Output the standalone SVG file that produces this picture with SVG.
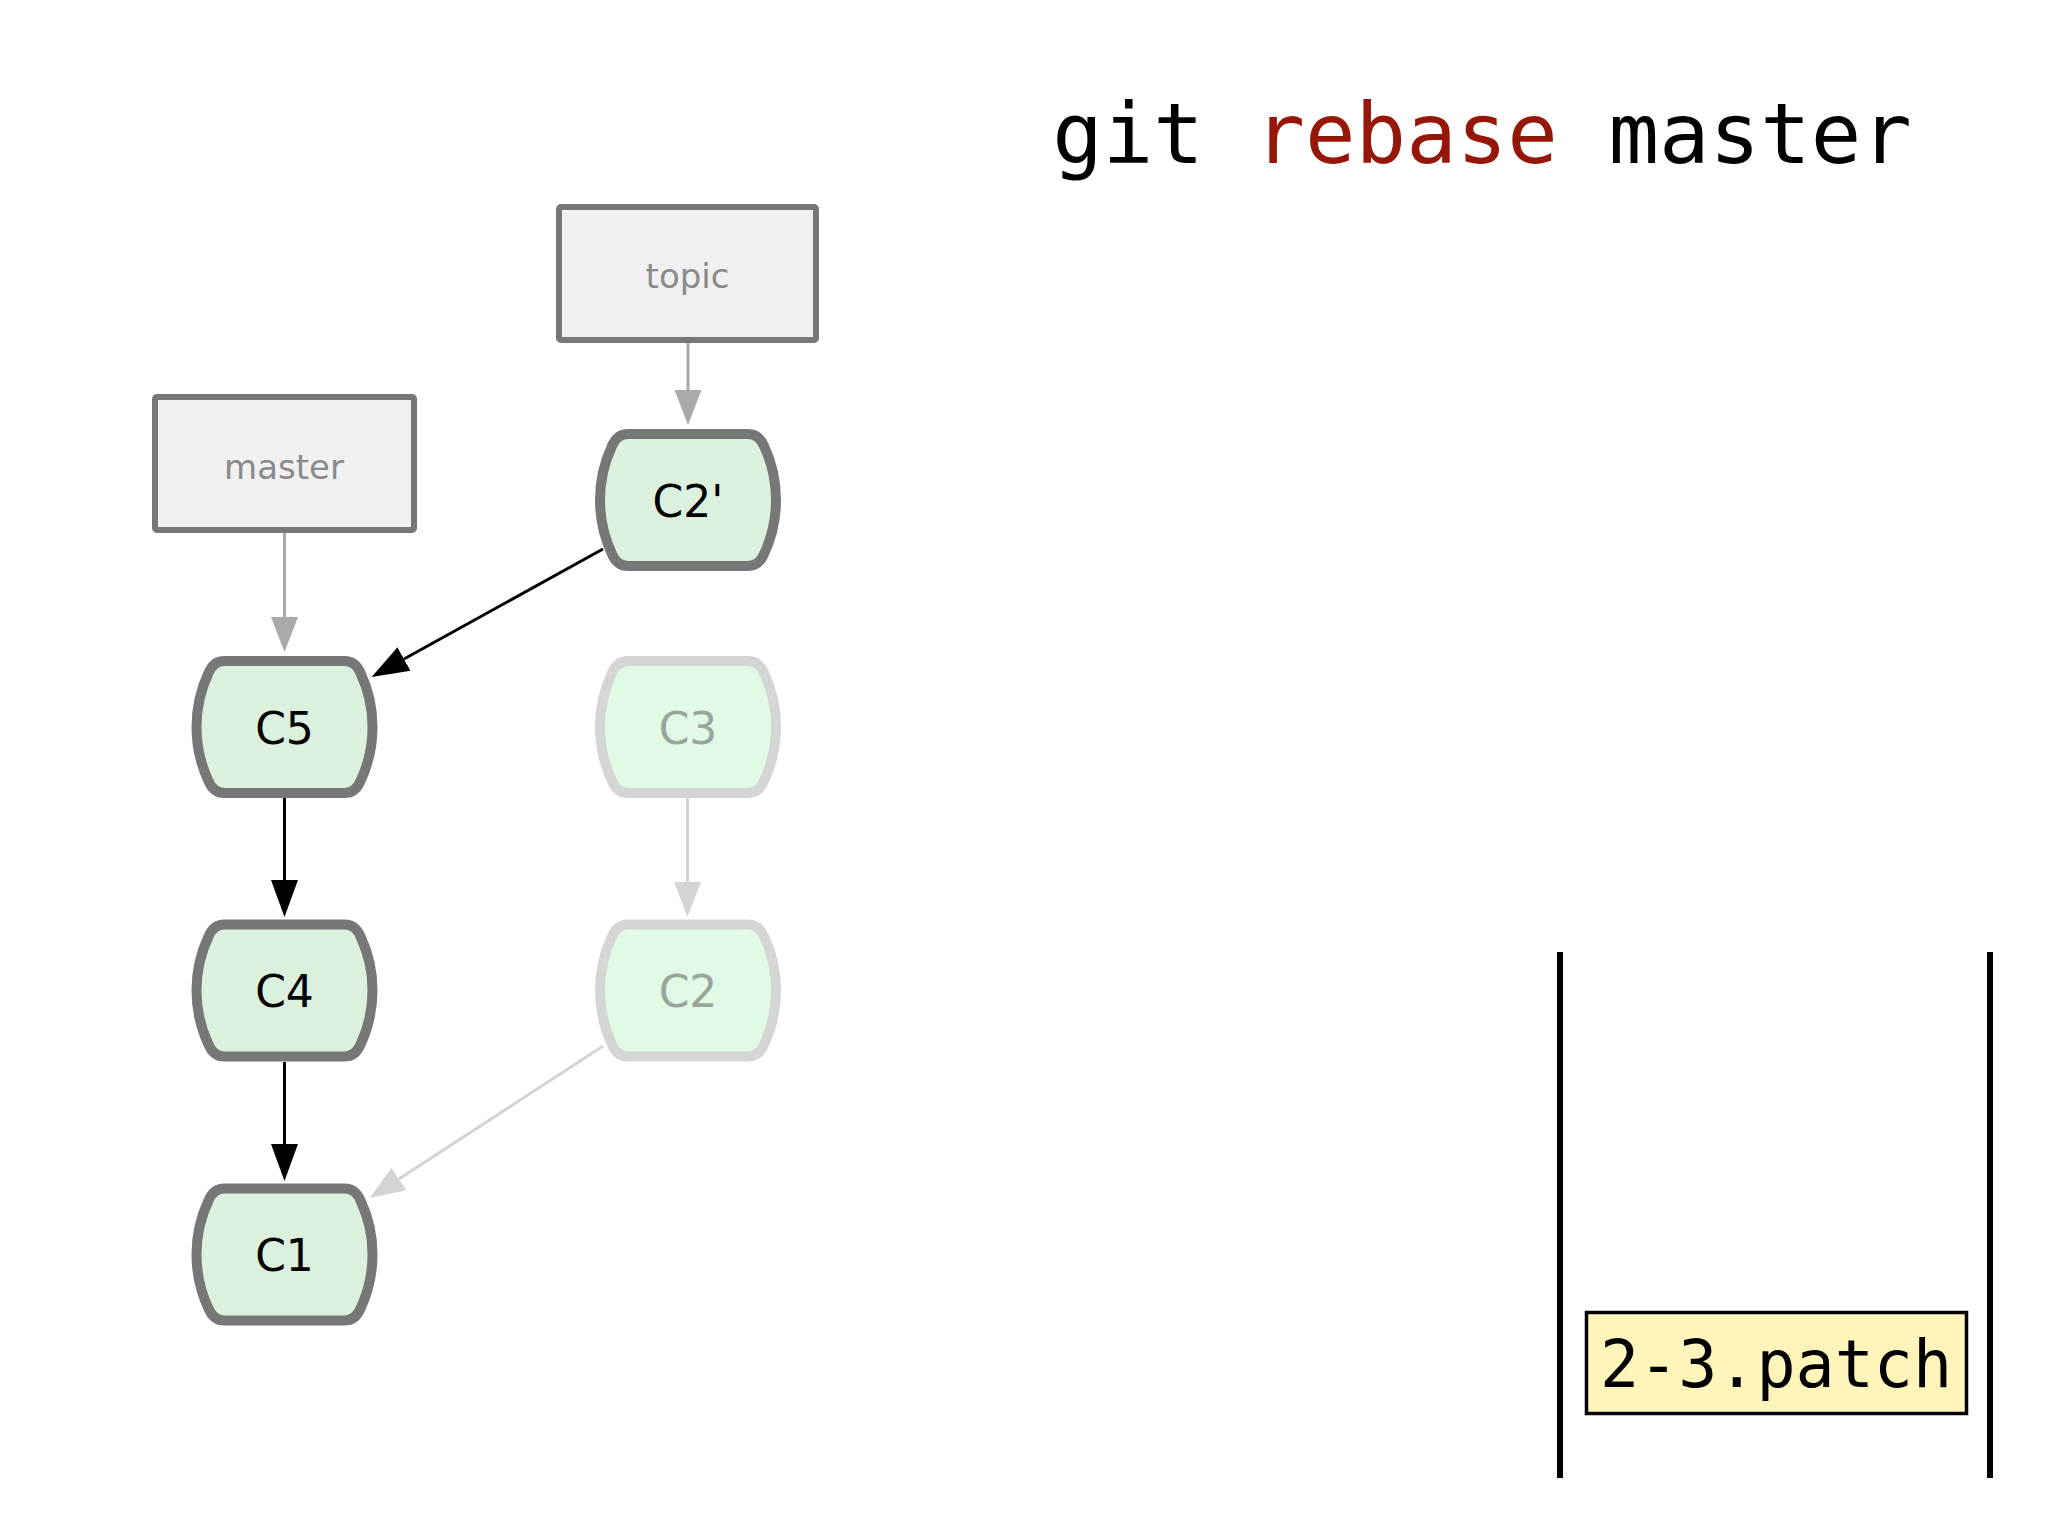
<svg xmlns="http://www.w3.org/2000/svg" width="2048" height="1536" viewBox="0 0 2048 1536">
  <style>
    .ref rect { fill: #f0f0f0; stroke: #777777; stroke-width: 6; }
    .ref text { font-family: "DejaVu Sans", "Liberation Sans", sans-serif; font-size: 34px; fill: #8a8a8a; text-anchor: middle; }
    .commit use { fill: #dbf1de; stroke: #777777; stroke-width: 10; }
    .commit text { font-family: "DejaVu Sans", "Liberation Sans", sans-serif; font-size: 44px; fill: #000000; text-anchor: middle; }
    .faded use { fill: #e0fae6; stroke: #d5d5d5; }
    .faded text { fill: #9aa59c; }
    .mono { font-family: "DejaVu Sans Mono", "Liberation Mono", monospace; }
    .edge { fill: none; stroke-width: 3; }
    .e-ref { stroke: #aaaaaa; }
    .e-main { stroke: #000000; }
    .e-old { stroke: #d4d4d4; }
  </style>
  <defs>
    <path id="commitShape" d="M -60,-66 H 60 Q 71,-66 76,-54 C 92,-20 92,20 76,54 Q 71,66 60,66 H -60 Q -71,66 -76,54 C -92,20 -92,-20 -76,-54 Q -71,-66 -60,-66 Z"/>
    <marker id="headRef" markerUnits="userSpaceOnUse" markerWidth="36" markerHeight="30" refX="0" refY="15" orient="auto" viewBox="0 0 36 30">
      <path d="M0,1.5 L35,15 L0,28.5 Z" fill="#aaaaaa"/>
    </marker>
    <marker id="headMain" markerUnits="userSpaceOnUse" markerWidth="38" markerHeight="30" refX="0" refY="15" orient="auto" viewBox="0 0 38 30">
      <path d="M0,1.5 L37,15 L0,28.5 Z" fill="#000000"/>
    </marker>
    <marker id="headOld" markerUnits="userSpaceOnUse" markerWidth="36" markerHeight="30" refX="0" refY="15" orient="auto" viewBox="0 0 36 30">
      <path d="M0,1.5 L35,15 L0,28.5 Z" fill="#d4d4d4"/>
    </marker>
  </defs>

  <rect x="0" y="0" width="2048" height="1536" fill="#ffffff"/>

  <g id="title">
    <text class="mono" x="1482" y="163" font-size="84" text-anchor="middle"><tspan fill="#000000">git </tspan><tspan fill="#961608">rebase</tspan><tspan fill="#000000"> master</tspan></text>
  </g>

  <g id="connectors">
    <line class="edge e-ref" x1="688" y1="343" x2="688" y2="390" marker-end="url(#headRef)"/>
    <line class="edge e-ref" x1="284.5" y1="533" x2="284.5" y2="617" marker-end="url(#headRef)"/>
    <line class="edge e-main" x1="284.5" y1="798" x2="284.5" y2="880" marker-end="url(#headMain)"/>
    <line class="edge e-main" x1="284.5" y1="1062" x2="284.5" y2="1144" marker-end="url(#headMain)"/>
    <line class="edge e-main" x1="603" y1="549" x2="404" y2="659" marker-end="url(#headMain)"/>
    <line class="edge e-old" x1="687.5" y1="798" x2="687.5" y2="882" marker-end="url(#headOld)"/>
    <line class="edge e-old" x1="603" y1="1046" x2="399" y2="1179" marker-end="url(#headOld)"/>
  </g>

  <g id="topic" class="ref">
    <rect x="559" y="207" width="257" height="133" rx="2"/>
    <text x="687.5" y="288">topic</text>
  </g>
  <g id="master" class="ref">
    <rect x="155" y="397" width="259" height="133" rx="2"/>
    <text x="284" y="479">master</text>
  </g>

  <g id="C2p" class="commit">
    <use href="#commitShape" transform="translate(688,500)"/>
    <text x="688" y="516.5">C2'</text>
  </g>
  <g id="C5" class="commit">
    <use href="#commitShape" transform="translate(284.5,727)"/>
    <text x="284.5" y="743.5">C5</text>
  </g>
  <g id="C4" class="commit">
    <use href="#commitShape" transform="translate(284.5,990.5)"/>
    <text x="284.5" y="1007">C4</text>
  </g>
  <g id="C1" class="commit">
    <use href="#commitShape" transform="translate(284.5,1254.5)"/>
    <text x="284.5" y="1271">C1</text>
  </g>
  <g id="C3" class="commit faded">
    <use href="#commitShape" transform="translate(688,727)"/>
    <text x="688" y="743.5">C3</text>
  </g>
  <g id="C2" class="commit faded">
    <use href="#commitShape" transform="translate(688,990.5)"/>
    <text x="688" y="1007">C2</text>
  </g>

  <g id="patch-queue">
    <line x1="1560" y1="952" x2="1560" y2="1478" stroke="#000000" stroke-width="6"/>
    <line x1="1990" y1="952" x2="1990" y2="1478" stroke="#000000" stroke-width="6"/>
  </g>
  <g id="patch">
    <rect x="1586.5" y="1312.5" width="380" height="101" fill="#fff5bb" stroke="#000000" stroke-width="3.5"/>
    <text class="mono" x="1776" y="1387" font-size="65" text-anchor="middle" fill="#000000">2-3.patch</text>
  </g>
</svg>
